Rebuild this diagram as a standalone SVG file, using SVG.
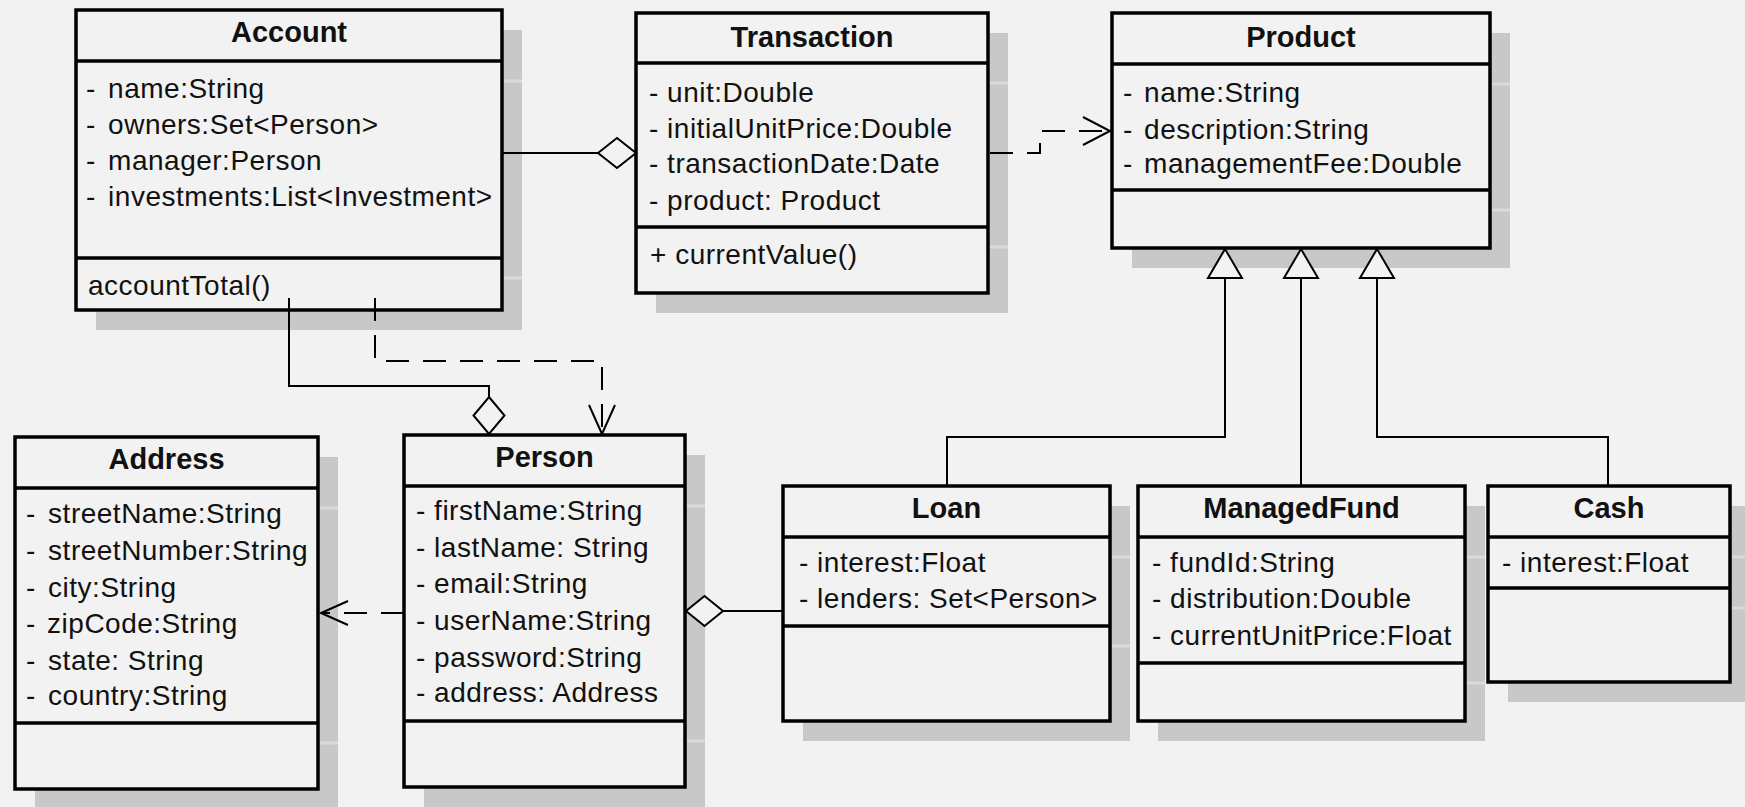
<svg xmlns="http://www.w3.org/2000/svg" width="1745" height="807" viewBox="0 0 1745 807">
<style>
.bg{fill:#f2f2f2}
.sh{fill:#c8c8c8}
.shl{stroke:#dadada;stroke-width:3}
.box{fill:#f2f2f2;stroke:#000;stroke-width:3.5}
.dv{stroke:#000;stroke-width:3.5}
.t{font-family:"Liberation Sans",Arial,sans-serif;font-size:28px;fill:#111;letter-spacing:0.5px}
.h{font-weight:bold;font-size:29px;text-anchor:middle;letter-spacing:0}
.c{fill:none;stroke:#000;stroke-width:2}
.d{stroke-dasharray:23 14}
.hd{fill:#f2f2f2;stroke:#000;stroke-width:2}
</style>
<rect class="bg" x="0" y="0" width="1745" height="807"/>

<g id="Account">
<rect class="sh" x="96" y="30" width="426" height="300"/>
<line class="shl" x1="504" y1="81" x2="522" y2="81"/>
<line class="shl" x1="504" y1="278" x2="522" y2="278"/>
<rect class="box" x="76" y="10" width="426" height="300"/>
<line class="dv" x1="76" y1="61" x2="502" y2="61"/>
<line class="dv" x1="76" y1="258" x2="502" y2="258"/>
<text class="t h" x="289" y="42">Account</text>
<text class="t" x="86" y="98">- <tspan dx="4">name:String</tspan></text>
<text class="t" x="86" y="134">- <tspan dx="4">owners:Set&lt;Person&gt;</tspan></text>
<text class="t" x="86" y="170">- <tspan dx="4">manager:Person</tspan></text>
<text class="t" x="86" y="206">- <tspan dx="4">investments:List&lt;Investment&gt;</tspan></text>
<text class="t" x="88" y="295">accountTotal()</text>
</g>

<g id="Transaction">
<rect class="sh" x="656" y="33" width="352" height="280"/>
<line class="shl" x1="990" y1="83" x2="1008" y2="83"/>
<line class="shl" x1="990" y1="247" x2="1008" y2="247"/>
<rect class="box" x="636" y="13" width="352" height="280"/>
<line class="dv" x1="636" y1="63" x2="988" y2="63"/>
<line class="dv" x1="636" y1="227" x2="988" y2="227"/>
<text class="t h" x="812" y="47">Transaction</text>
<text class="t" x="649" y="102">- unit:Double</text>
<text class="t" x="649" y="138">- initialUnitPrice:Double</text>
<text class="t" x="649" y="173">- transactionDate:Date</text>
<text class="t" x="649" y="210">- product: Product</text>
<text class="t" x="650" y="264">+ currentValue()</text>
</g>

<g id="Product">
<rect class="sh" x="1132" y="33" width="378" height="235"/>
<line class="shl" x1="1492" y1="84" x2="1510" y2="84"/>
<line class="shl" x1="1492" y1="210" x2="1510" y2="210"/>
<rect class="box" x="1112" y="13" width="378" height="235"/>
<line class="dv" x1="1112" y1="64" x2="1490" y2="64"/>
<line class="dv" x1="1112" y1="190" x2="1490" y2="190"/>
<text class="t h" x="1301" y="47">Product</text>
<text class="t" x="1123" y="102">- <tspan dx="3">name:String</tspan></text>
<text class="t" x="1123" y="139">- <tspan dx="3">description:String</tspan></text>
<text class="t" x="1123" y="173">- <tspan dx="3">managementFee:Double</tspan></text>
</g>

<g id="Address">
<rect class="sh" x="35" y="457" width="303" height="352"/>
<line class="shl" x1="320" y1="508" x2="338" y2="508"/>
<line class="shl" x1="320" y1="743" x2="338" y2="743"/>
<rect class="box" x="15" y="437" width="303" height="352"/>
<line class="dv" x1="15" y1="488" x2="318" y2="488"/>
<line class="dv" x1="15" y1="723" x2="318" y2="723"/>
<text class="t h" x="166.5" y="469">Address</text>
<text class="t" x="26" y="523">- <tspan dx="4">streetName:String</tspan></text>
<text class="t" x="26" y="560">- <tspan dx="4">streetNumber:String</tspan></text>
<text class="t" x="26" y="597">- <tspan dx="4">city:String</tspan></text>
<text class="t" x="26" y="633">- <tspan dx="3">zipCode:String</tspan></text>
<text class="t" x="26" y="670">- <tspan dx="4">state: String</tspan></text>
<text class="t" x="26" y="705">- <tspan dx="4">country:String</tspan></text>
</g>

<g id="Person">
<rect class="sh" x="424" y="455" width="281" height="352"/>
<line class="shl" x1="687" y1="506" x2="705" y2="506"/>
<line class="shl" x1="687" y1="741" x2="705" y2="741"/>
<rect class="box" x="404" y="435" width="281" height="352"/>
<line class="dv" x1="404" y1="486" x2="685" y2="486"/>
<line class="dv" x1="404" y1="721" x2="685" y2="721"/>
<text class="t h" x="544.5" y="467">Person</text>
<text class="t" x="416" y="520">- firstName:String</text>
<text class="t" x="416" y="557">- lastName: String</text>
<text class="t" x="416" y="593">- email:String</text>
<text class="t" x="416" y="630">- userName:String</text>
<text class="t" x="416" y="667">- password:String</text>
<text class="t" x="416" y="702">- address: Address</text>
</g>

<g id="Loan">
<rect class="sh" x="803" y="506" width="327" height="235"/>
<line class="shl" x1="1112" y1="557" x2="1130" y2="557"/>
<line class="shl" x1="1112" y1="646" x2="1130" y2="646"/>
<rect class="box" x="783" y="486" width="327" height="235"/>
<line class="dv" x1="783" y1="537" x2="1110" y2="537"/>
<line class="dv" x1="783" y1="626" x2="1110" y2="626"/>
<text class="t h" x="946.5" y="518">Loan</text>
<text class="t" x="799" y="572">- interest:Float</text>
<text class="t" x="799" y="608">- lenders: Set&lt;Person&gt;</text>
</g>

<g id="ManagedFund">
<rect class="sh" x="1158" y="506" width="327" height="235"/>
<line class="shl" x1="1467" y1="557" x2="1485" y2="557"/>
<line class="shl" x1="1467" y1="683" x2="1485" y2="683"/>
<rect class="box" x="1138" y="486" width="327" height="235"/>
<line class="dv" x1="1138" y1="537" x2="1465" y2="537"/>
<line class="dv" x1="1138" y1="663" x2="1465" y2="663"/>
<text class="t h" x="1301.5" y="518">ManagedFund</text>
<text class="t" x="1152" y="572">- fundId:String</text>
<text class="t" x="1152" y="608">- distribution:Double</text>
<text class="t" x="1152" y="645">- currentUnitPrice:Float</text>
</g>

<g id="Cash">
<rect class="sh" x="1508" y="506" width="242" height="196"/>
<line class="shl" x1="1732" y1="557" x2="1750" y2="557"/>
<line class="shl" x1="1732" y1="608" x2="1750" y2="608"/>
<rect class="box" x="1488" y="486" width="242" height="196"/>
<line class="dv" x1="1488" y1="537" x2="1730" y2="537"/>
<line class="dv" x1="1488" y1="588" x2="1730" y2="588"/>
<text class="t h" x="1609" y="518">Cash</text>
<text class="t" x="1502" y="572">- interest:Float</text>
</g>

<g id="connectors">
<path class="c" d="M502 153 H598"/>
<path class="hd" d="M598 153 L617 138 L636 153 L617 168 Z"/>
<path class="c" d="M289 298 V386 H489 V397"/>
<path class="hd" d="M489 397 L504.5 415.5 L489 434 L473.5 415.5 Z"/>
<path class="c d" d="M375 298 V361 H602 V433"/>
<path class="c" d="M589 405 L602 434 L615 405"/>
<path class="c d" d="M990 153 H1040 V131 H1109"/>
<path class="c" d="M1083 117 L1110 131 L1083 145"/>
<path class="c d" d="M404 613 H322"/>
<path class="c" d="M348 601 L321 613 L348 625"/>
<path class="c" d="M783 611 H723"/>
<path class="hd" d="M686 611 L704.5 596 L723 611 L704.5 626 Z"/>
<path class="c" d="M947 486 V437 H1225 V278"/>
<path class="c" d="M1301 486 V278"/>
<path class="c" d="M1608 486 V437 H1377 V278"/>
<path class="hd" d="M1225 249 L1242 278 L1208 278 Z"/>
<path class="hd" d="M1301 249 L1318 278 L1284 278 Z"/>
<path class="hd" d="M1377 249 L1394 278 L1360 278 Z"/>
</g>
</svg>
